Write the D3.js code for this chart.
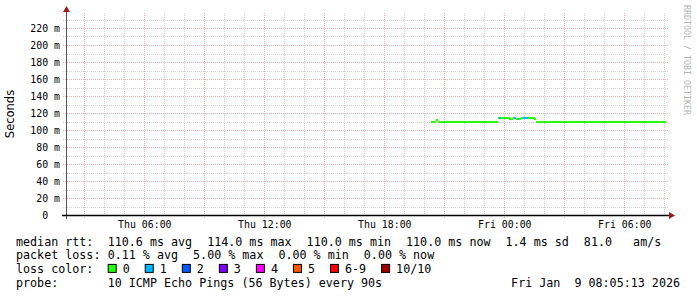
<!DOCTYPE html>
<html>
<head>
<meta charset="utf-8">
<script src="https://cdn.jsdelivr.net/npm/d3@7"></script>
<style>
  html, body { margin: 0; padding: 0; background: #fff; }
  svg { display: block; }
  text { font-family: "DejaVu Sans Mono", monospace; fill: #000; white-space: pre; }
</style>
</head>
<body>
<div id="chart"></div>
<script>
// time window of the graph
const startTime = new Date(2026, 0, 8, 2, 5, 13);
const endTime = new Date(2026, 0, 9, 8, 5, 13);
const firstSample = new Date(2026, 0, 8, 20, 25, 0);
const stepSeconds = 300;

// median rtt per step, in ms
const rttMs = [
  110.0, 110.0, 110.0, 112.0, 110.0, 110.0, 110.0, 110.0, 110.0, 110.0, 110.0, 110.0, 110.0, 110.0, 110.0, 110.0, 110.0, 110.0, 110.0, 110.0,
  110.0, 110.0, 110.0, 110.0, 110.0, 110.0, 110.0, 110.0, 110.0, 110.0, 110.0, 110.0, 110.0, 110.0, 110.0, 110.0, 110.0, 110.0, 110.0, 110.0,
  114.0, 114.0, 113.8, 114.0, 114.0, 114.0, 113.9, 113.0, 113.2, 113.8, 114.0, 112.6, 112.4, 113.0, 113.6, 114.0, 114.0, 114.0, 114.0, 114.0,
  113.6, 114.0, 113.4, 110.0, 110.0, 110.0, 110.0, 110.0, 110.0, 110.0, 110.0, 110.0, 110.0, 110.0, 110.0, 110.0, 110.0, 110.0, 110.0, 110.0,
  110.0, 110.0, 110.0, 110.0, 110.0, 110.0, 110.0, 110.0, 110.0, 110.0, 110.0, 110.0, 110.0, 110.0, 110.0, 110.0, 110.0, 110.0, 110.0, 110.0,
  110.0, 110.0, 110.0, 110.0, 110.0, 110.0, 110.0, 110.0, 110.0, 110.0, 110.0, 110.0, 110.0, 110.0, 110.0, 110.0, 110.0, 110.0, 110.0, 110.0,
  110.0, 110.0, 110.0, 110.0, 110.0, 110.0, 110.0, 110.0, 110.0, 110.0, 110.0, 110.0, 110.0, 110.0, 110.0, 110.0, 110.0, 110.0, 110.0, 110.0,
  110.0
];

// lost pings per step (colour bucket)
const lossPings = [
  0, 0, 0, 0, 0, 0, 0, 0, 0, 0, 0, 0, 0, 0, 0, 0, 0, 0, 0, 0,
  0, 0, 0, 0, 0, 0, 0, 0, 0, 0, 0, 0, 0, 0, 0, 0, 0, 0, 0, 0,
  0, 1, 0, 0, 0, 0, 0, 0, 0, 0, 1, 0, 1, 0, 0, 1, 1, 1, 0, 0,
  0, 0, 0, 0, 0, 0, 0, 0, 0, 0, 0, 0, 0, 0, 0, 0, 0, 0, 0, 0,
  0, 0, 0, 0, 0, 0, 0, 0, 0, 0, 0, 0, 0, 0, 0, 0, 0, 0, 0, 0,
  0, 0, 0, 0, 0, 0, 0, 0, 0, 0, 0, 0, 0, 0, 0, 0, 0, 0, 0, 0,
  0, 0, 0, 0, 0, 0, 0, 0, 0, 0, 0, 0, 0, 0, 0, 0, 0, 0, 0, 0,
  0
];

const lossLabels = ['0', '1', '2', '3', '4', '5', '6-9', '10/10'];
const lossColors = ['#26ff00', '#00b8ff', '#0059ff', '#7e00ff', '#ff00ff', '#ff5500', '#ff0000', '#a10000'];

const legendHeads = ['median rtt:', 'packet loss:', 'loss color:', 'probe:'];
const rttStats = ['110.6 ms avg', '114.0 ms max', '110.0 ms min', '110.0 ms now', '1.4 ms sd', '81.0   am/s'];
const lossStats = ['0.11 % avg', '5.00 % max', '0.00 % min', '0.00 % now'];
const probeText = '10 ICMP Echo Pings (56 Bytes) every 90s';
const stampText = 'Fri Jan  9 08:05:13 2026';
const yTitle = 'Seconds';
const watermark = 'RRDTOOL / TOBI OETIKER';

const width = 697;
const height = 297;
const plotLeft = 66;
const plotRight = 666;
const plotBottom = 215;
const plotTop = 13;

const svg = d3.select('#chart')
  .append('svg')
  .attr('width', width)
  .attr('height', height);

const x = d3.scaleTime().domain([startTime, endTime]).range([plotLeft, plotRight]);
const y = d3.scaleLinear().domain([0, 220]).range([plotBottom, 28]);
const yMax = y.invert(plotTop);

// grid: minor first, major on top
const grid = svg.append('g').attr('shape-rendering', 'crispEdges');
const hours = d3.timeHour.range(d3.timeHour.ceil(startTime), endTime);
const levels = d3.range(10, yMax, 10);

grid.selectAll('line.hminor')
  .data(levels.filter(v => v % 20 !== 0))
  .enter().append('line')
  .attr('x1', plotLeft - 3).attr('x2', plotRight + 2)
  .attr('y1', d => Math.round(y(d)) + 0.5).attr('y2', d => Math.round(y(d)) + 0.5)
  .attr('stroke', '#d2d2d2').attr('stroke-dasharray', '1,1');

grid.selectAll('line.vminor')
  .data(hours.filter(h => h.getHours() % 3 !== 0))
  .enter().append('line')
  .attr('x1', d => Math.round(x(d)) + 0.5).attr('x2', d => Math.round(x(d)) + 0.5)
  .attr('y1', plotTop).attr('y2', plotBottom + 2)
  .attr('stroke', '#d2d2d2').attr('stroke-dasharray', '1,1');

grid.selectAll('line.hmajor')
  .data(levels.filter(v => v % 20 === 0))
  .enter().append('line')
  .attr('x1', plotLeft - 3).attr('x2', plotRight + 2)
  .attr('y1', d => Math.round(y(d)) + 0.5).attr('y2', d => Math.round(y(d)) + 0.5)
  .attr('stroke', '#ecb0b0').attr('stroke-dasharray', '1,1');

grid.selectAll('line.vmajor')
  .data(hours.filter(h => h.getHours() % 3 === 0))
  .enter().append('line')
  .attr('x1', d => Math.round(x(d)) + 0.5).attr('x2', d => Math.round(x(d)) + 0.5)
  .attr('y1', plotTop).attr('y2', plotBottom + 4)
  .attr('stroke', '#ecb0b0').attr('stroke-dasharray', '1,1');

// median rtt, one block per step coloured by loss
const samples = rttMs.map((v, i) => ({
  t: d3.timeSecond.offset(firstSample, i * stepSeconds),
  v: v,
  loss: lossPings[i]
}));

svg.append('g')
  .attr('shape-rendering', 'crispEdges')
  .selectAll('rect')
  .data(samples)
  .enter().append('rect')
  .attr('x', d => x(d3.timeSecond.offset(d.t, -stepSeconds)))
  .attr('width', d => x(d.t) - x(d3.timeSecond.offset(d.t, -stepSeconds)) + 0.4)
  .attr('y', d => Math.round(y(d.v) - 1))
  .attr('height', 2)
  .attr('fill', d => lossColors[d.loss]);

// axes lines and arrows
svg.append('line')
  .attr('x1', plotLeft + 0.5).attr('x2', plotLeft + 0.5)
  .attr('y1', plotTop - 1).attr('y2', plotBottom + 4)
  .attr('stroke', '#555').attr('shape-rendering', 'crispEdges');
svg.append('line')
  .attr('x1', plotLeft - 4).attr('x2', plotRight + 3)
  .attr('y1', plotBottom + 0.5).attr('y2', plotBottom + 0.5)
  .attr('stroke', '#000').attr('stroke-width', 1.4);
svg.append('path')
  .attr('d', `M${plotLeft - 3},${plotTop - 1}L${plotLeft + 0.5},${plotTop - 7}L${plotLeft + 4},${plotTop - 1}Z`)
  .attr('fill', '#9b1c1c');
svg.append('path')
  .attr('d', `M${plotRight + 3},${plotBottom - 3}L${plotRight + 9},${plotBottom + 0.5}L${plotRight + 3},${plotBottom + 4}Z`)
  .attr('fill', '#9b1c1c');

// axis labels
const xAxis = d3.axisBottom(x)
  .tickValues(hours.filter(h => h.getHours() % 6 === 0))
  .tickFormat(d3.timeFormat('%a %H:%M'))
  .tickSize(0)
  .tickPadding(6);
svg.append('g')
  .attr('transform', `translate(0,${plotBottom})`)
  .call(xAxis)
  .call(g => g.select('.domain').remove())
  .selectAll('text')
  .attr('font-family', '"DejaVu Sans Mono", monospace')
  .attr('font-size', 9.9)
  .attr('fill', '#000');

const yAxis = d3.axisLeft(y)
  .tickValues(levels.filter(v => v % 20 === 0).concat([0]))
  .tickFormat(d => d === 0 ? '0  ' : `${d} m`)
  .tickSize(0)
  .tickPadding(6);
svg.append('g')
  .attr('transform', `translate(${plotLeft},0)`)
  .call(yAxis)
  .call(g => g.select('.domain').remove())
  .selectAll('text')
  .attr('font-family', '"DejaVu Sans Mono", monospace')
  .attr('font-size', 9.9)
  .attr('fill', '#000');

svg.append('text')
  .attr('transform', `translate(14,${(plotTop + plotBottom) / 2}) rotate(-90)`)
  .attr('text-anchor', 'middle')
  .style('font-family', '"DejaVu Sans", sans-serif')
  .attr('font-size', 11.5)
  .text(yTitle);

svg.append('text')
  .attr('transform', `translate(684,5) rotate(90)`)
  .style('font-family', '"DejaVu Sans Mono", monospace')
  .attr('font-size', 8.3)
  .style('fill', '#b4b4b4')
  .text(watermark);

// legend block
const legend = svg.append('g')
  .attr('font-size', 11.7);
const lineY = i => 245.5 + i * 13.7;
const valueCol = 107.7;
const gap = 15;

legend.selectAll('text.head')
  .data(legendHeads)
  .enter().append('text')
  .attr('x', 16)
  .attr('y', (_, i) => lineY(i))
  .text(d => d);

let placeRow = (items, row) => {
  let cx = valueCol;
  items.forEach(s => {
    let t = legend.append('text').attr('x', cx).attr('y', lineY(row)).text(s);
    cx += t.node().getComputedTextLength() + gap;
  });
};
placeRow(rttStats, 0);
placeRow(lossStats, 1);

let cx = valueCol;
lossLabels.forEach((lab, i) => {
  legend.append('rect')
    .attr('x', cx + 0.5).attr('y', lineY(2) - 8.5)
    .attr('width', 8).attr('height', 8)
    .attr('fill', lossColors[i])
    .attr('stroke', '#000').attr('stroke-width', 1);
  let t = legend.append('text').attr('x', cx + 15).attr('y', lineY(2)).text(lab);
  cx += 15 + t.node().getComputedTextLength() + 15;
});

legend.append('text').attr('x', valueCol).attr('y', lineY(3)).text(probeText);
legend.append('text').attr('x', 680).attr('y', lineY(3)).attr('text-anchor', 'end').text(stampText);
</script>
</body>
</html>
